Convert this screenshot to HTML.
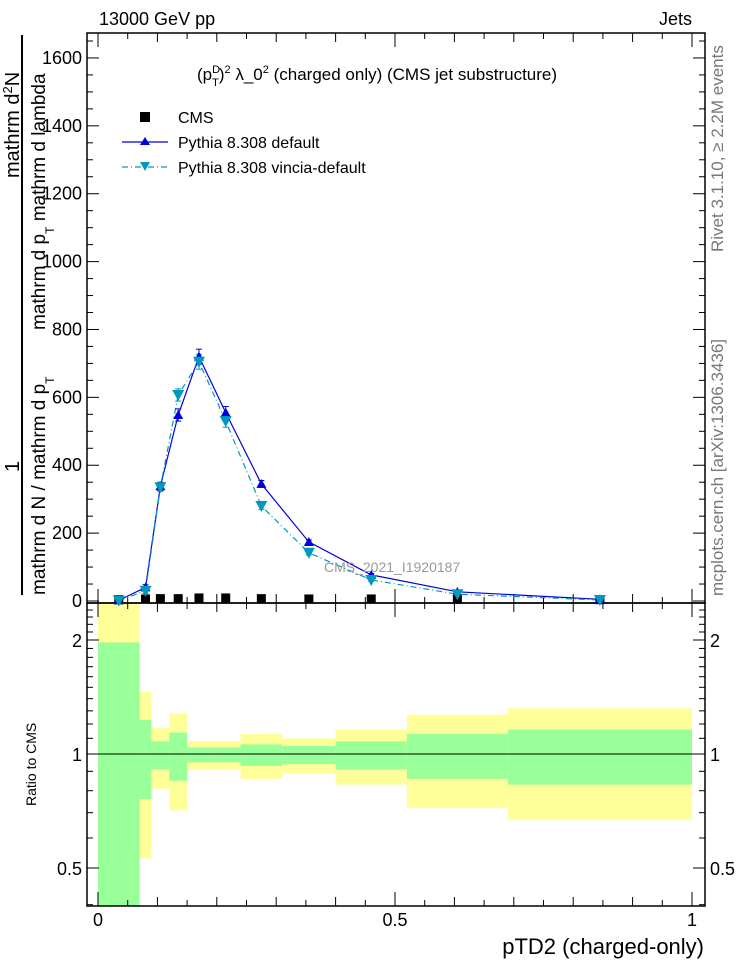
<!DOCTYPE html>
<html><head><meta charset="utf-8"><style>
body{margin:0;background:#fff}
svg{display:block;font-family:"Liberation Sans",sans-serif}
</style></head><body>
<svg id="c" width="746" height="972" viewBox="0 0 746 972">
<g id="bands"></g>
<g id="axes"></g>
<g id="series"></g>
<text x="99" y="25" font-size="18">13000 GeV pp</text>
<text x="692" y="25" font-size="18" text-anchor="end">Jets</text>
<text x="197" y="80" font-size="17">(p<tspan font-size="11" dy="-7">D</tspan><tspan font-size="11" dx="-8" dy="13">T</tspan><tspan dy="-6">)</tspan><tspan font-size="11" dy="-7">2</tspan><tspan dy="7"> λ_0</tspan><tspan font-size="11" dy="-7">2</tspan><tspan dy="7"> (charged only) (CMS jet substructure)</tspan></text>
<g>
<rect x="140" y="112" width="10" height="10" fill="#000"/>
<text x="178" y="123" font-size="16">CMS</text>
<line x1="122" y1="142" x2="168" y2="142" stroke="#0000dd" stroke-width="1.2"/>
<path d="M145,137 L150,145 L140,145 Z" fill="#0000dd"/>
<text x="178" y="148" font-size="16">Pythia 8.308 default</text>
<line x1="122" y1="167" x2="168" y2="167" stroke="#0099bb" stroke-width="1.2" stroke-dasharray="6,3,1,3"/>
<path d="M140,162 L150,162 L145,171 Z" fill="#0099bb"/>
<text x="178" y="173" font-size="16">Pythia 8.308 vincia-default</text>
</g>
<text x="324" y="572" font-size="14" fill="#999">CMS_2021_I1920187</text>
<text transform="translate(723,252) rotate(-90)" font-size="17" fill="#777">Rivet 3.1.10, ≥ 2.2M events</text>
<text transform="translate(723,596) rotate(-90)" font-size="17" fill="#777">mcplots.cern.ch [arXiv:1306.3436]</text>
<g font-size="20">
<line x1="22" y1="35" x2="22" y2="595" stroke="#000" stroke-width="2"/>
<text transform="translate(19,178) rotate(-90)">mathrm d<tspan font-size="13" dy="-7">2</tspan><tspan dy="7">N</tspan></text>
<text transform="translate(19,472) rotate(-90)">1</text>
<text transform="translate(45,330) rotate(-90)" font-size="19">mathrm d p<tspan font-size="12" dy="9">T</tspan><tspan dy="-9">  mathrm d lambda</tspan></text>
<text transform="translate(45,595) rotate(-90)" font-size="19">mathrm d N / mathrm d p<tspan font-size="12" dy="9">T</tspan></text>
</g>
<text transform="translate(36,806) rotate(-90)" font-size="14">Ratio to CMS</text>
<text x="704" y="954" font-size="22" text-anchor="end">pTD2 (charged-only)</text>
</svg>
<script>
const binEdges=[0,0.07,0.09,0.12,0.15,0.19,0.24,0.31,0.40,0.52,0.69,1.0];
const xCenters=[0.035,0.08,0.105,0.135,0.17,0.215,0.275,0.355,0.46,0.605,0.845];
const cmsVals=[4,6,7,7,9,9,7,6,6,5,4];
const pyDefault=[2,40,338,548,720,555,345,174,77,27,5];
const pyDefaultErr=[2,8,12,18,22,18,10,6,4,2,1];
const pyVincia=[1,30,335,607,705,530,280,142,62,20,3];
const pyVinciaErr=[2,8,12,18,22,18,10,6,4,2,1];
const greenHi=[1.97,1.23,1.08,1.14,1.04,1.04,1.06,1.05,1.08,1.13,1.16];
const greenLo=[0.3,0.76,0.91,0.85,0.95,0.95,0.93,0.94,0.91,0.86,0.83];
const yellowHi=[3,1.46,1.17,1.28,1.08,1.08,1.13,1.10,1.16,1.27,1.32];
const yellowLo=[0.3,0.53,0.81,0.71,0.91,0.91,0.86,0.89,0.83,0.72,0.67];
const yTicks=[0,200,400,600,800,1000,1200,1400,1600];
const rTicks=[0.5,1,2];
const xTicks=[0,0.5,1];

const NS="http://www.w3.org/2000/svg";
const L=87,R=705,T=33,M=603,B=906;
const X=v=>98+v*594;
const Y=v=>601-v*0.3394;
const RY=v=>754-Math.log2(v)*114;
function mk(parent,tag,attrs){const e=document.createElementNS(NS,tag);for(const k in attrs)e.setAttribute(k,attrs[k]);document.getElementById(parent).appendChild(e);return e;}

for(let i=0;i<binEdges.length-1;i++){
  const x1=X(binEdges[i]),x2=X(binEdges[i+1]);
  const clip=v=>Math.max(M,Math.min(B,RY(v)));
  let yh=clip(yellowHi[i]),yl=clip(yellowLo[i]);
  let e=mk('bands','rect',{x:x1,y:yh,width:x2-x1,height:yl-yh,fill:'#ffff99'});
  
  
  let gh=clip(greenHi[i]),gl=clip(greenLo[i]);
  e=mk('bands','rect',{x:x1,y:gh,width:x2-x1,height:gl-gh,fill:'#99ff99'});
  
  
}
let f=mk('axes','rect',{x:L,y:T,width:R-L,height:M-T,fill:'none',stroke:'#000','stroke-width':1.5});


f=mk('axes','rect',{x:L,y:M,width:R-L,height:B-M,fill:'none',stroke:'#000','stroke-width':1.5});


let u=mk('axes','line',{x1:L,x2:R,y1:RY(1),y2:RY(1),stroke:'#000'});


for(let k=0;k<=20;k++){
  const v=k*0.05,x=X(v),len=(k%10===0)?14:(k%2===0?9:6);
  for(const [y0,d] of [[M,-1],[T,1],[B,-1],[M,1]]){
    mk('axes','line',{x1:x,x2:x,y1:y0,y2:y0+d*len,stroke:'#000'});
  }
}
xTicks.forEach(v=>{
  const t=mk('axes','text',{x:X(v),y:926,'font-size':18,'text-anchor':'middle'});
  t.textContent=String(v);
  
  
});
for(let v=0;v<=1650;v+=50){
  const y=Y(v);if(y<T)continue;const len=v%200===0?12:6;
  mk('axes','line',{x1:L,x2:L+len,y1:y,y2:y,stroke:'#000'});
  mk('axes','line',{x1:R,x2:R-len,y1:y,y2:y,stroke:'#000'});
}
yTicks.forEach(v=>{
  const t=mk('axes','text',{x:82,y:Y(v)+6,'font-size':18,'text-anchor':'end'});
  t.textContent=String(v);
  
  
});
[0.4,0.5,0.6,0.7,0.8,0.9,1,1.1,1.2,1.3,1.4,1.5,1.6,1.7,1.8,1.9,2,2.1,2.2,2.3,2.4].forEach(v=>{
  const y=RY(v);if(y<M||y>B)return;const len=rTicks.includes(v)?12:6;
  mk('axes','line',{x1:L,x2:L+len,y1:y,y2:y,stroke:'#000'});
  mk('axes','line',{x1:R,x2:R-len,y1:y,y2:y,stroke:'#000'});
});
rTicks.forEach(v=>{
  let t=mk('axes','text',{x:82,y:RY(v)+7,'font-size':18,'text-anchor':'end'});
  t.textContent=String(v);
  
  
  t=mk('axes','text',{x:710,y:RY(v)+7,'font-size':18});
  t.textContent=String(v);
  
  
});
function line(vals,color,dash,name){
  const p=mk('series','polyline',{points:vals.map((v,i)=>X(xCenters[i])+','+Y(v)).join(' '),fill:'none',stroke:color,'stroke-width':1.2});
  if(dash)p.setAttribute('stroke-dasharray',dash);
  
  
}
line(pyDefault,'#0000dd',null,'pythia-default-line');
line(pyVincia,'#0099bb','6,3,1,3','pythia-vincia-line');
function errs(vals,errsArr,color){
  vals.forEach((v,i)=>{const x=X(xCenters[i]);
    mk('series','line',{x1:x,x2:x,y1:Y(v+errsArr[i]),y2:Y(v-errsArr[i]),stroke:color});
    mk('series','line',{x1:x-3,x2:x+3,y1:Y(v+errsArr[i]),y2:Y(v+errsArr[i]),stroke:color});
    mk('series','line',{x1:x-3,x2:x+3,y1:Y(v-errsArr[i]),y2:Y(v-errsArr[i]),stroke:color});
  });
}
errs(pyDefault,pyDefaultErr,'#0000dd');
errs(pyVincia,pyVinciaErr,'#0099bb');
cmsVals.forEach((v,i)=>{
  const r=mk('series','rect',{x:X(xCenters[i])-4.5,y:Y(v)-4.5,width:9,height:9,fill:'#000'});
  
  
});
pyDefault.forEach((v,i)=>{const x=X(xCenters[i]),y=Y(v);
  const p=mk('series','path',{d:`M${x},${y-5} L${x+5},${y+4} L${x-5},${y+4} Z`,fill:'#0000dd'});
  
  
});
pyVincia.forEach((v,i)=>{const x=X(xCenters[i]),y=Y(v);
  const p=mk('series','path',{d:`M${x-6},${y-5} L${x+6},${y-5} L${x},${y+6} Z`,fill:'#0099bb'});
  
  
});
</script>
</body></html>
